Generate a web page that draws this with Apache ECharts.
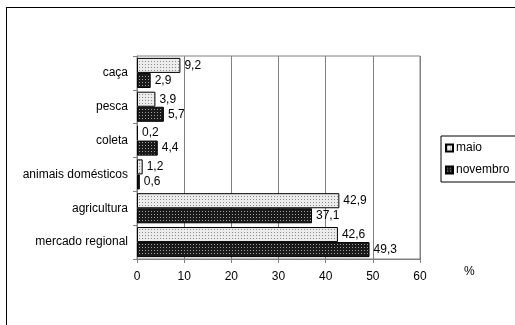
<!DOCTYPE html>
<html>
<head>
<meta charset="utf-8">
<script src="https://cdn.jsdelivr.net/npm/echarts@6/dist/echarts.min.js"></script>
<style>
  html, body { margin: 0; padding: 0; background: #fff; }
  #frame { position: absolute; left: 6px; top: 7px; width: 600px; height: 400px; border: 1px solid #000; box-sizing: border-box; }
  #chart { position: absolute; left: 0; top: 0; width: 515px; height: 325px; }
</style>
</head>
<body>
<div id="frame"></div>
<div id="chart"></div>
<script>
// Activity categories, listed bottom to top along the vertical axis
const categories = ['mercado regional', 'agricultura', 'animais domésticos', 'coleta', 'pesca', 'caça'];
// Share of each activity (%)
const maio = [42.6, 42.9, 1.2, 0.2, 3.9, 9.2];
const novembro = [49.3, 37.1, 0.6, 4.4, 5.7, 2.9];
const xTicks = [0, 10, 20, 30, 40, 50, 60];

function dotPattern(bg, dot) {
  const c = document.createElement('canvas');
  c.width = 3; c.height = 3;
  const g = c.getContext('2d');
  g.fillStyle = bg; g.fillRect(0, 0, 3, 3);
  g.fillStyle = dot; g.fillRect(1, 1, 1, 1);
  return { image: c, repeat: 'repeat' };
}
const lightFill = dotPattern('#ececec', '#8a8a8a');
const darkFill = dotPattern('#1a1a1a', '#a0a0a0');

const font = 'Liberation Sans, Arial, sans-serif';
const fmt = p => String(p.value).replace('.', ',');

const chart = echarts.init(document.getElementById('chart'), null, { renderer: 'canvas' });
chart.setOption({
  animation: false,
  textStyle: { fontFamily: font },
  grid: { left: 137, top: 56, width: 283, height: 203, show: true, borderColor: '#808080', borderWidth: 1, containLabel: false },
  legend: {
    data: ['maio', 'novembro'],
    orient: 'vertical',
    left: 441, top: 136,
    width: 100,
    itemWidth: 7, itemHeight: 7, itemGap: 10,
    icon: 'rect',
    padding: [6, 40, 6, 4],
    backgroundColor: '#fff',
    borderColor: '#000', borderWidth: 1,
    textStyle: { fontFamily: font, fontSize: 12, color: '#000', padding: [0, 0, 0, -2] }
  },
  xAxis: {
    type: 'value', min: xTicks[0], max: xTicks[xTicks.length - 1], interval: 10,
    axisLine: { show: true, lineStyle: { color: '#808080' } },
    axisTick: { show: true, length: 4, lineStyle: { color: '#808080' } },
    splitLine: { show: true, lineStyle: { color: '#808080', width: 1 } },
    axisLabel: { color: '#000', fontSize: 12, fontFamily: font, margin: 12 }
  },
  yAxis: {
    type: 'category', data: categories,
    axisLine: { show: true, lineStyle: { color: '#808080' } },
    axisTick: { show: true, length: 4, lineStyle: { color: '#808080' } },
    axisLabel: { color: '#000', fontSize: 12, fontFamily: font, margin: 9 }
  },
  graphic: [{ type: 'text', left: 464, top: 266, style: { text: '%', font: '12px ' + font, fill: '#000' } }],
  series: [
    {
      name: 'maio', type: 'bar', data: maio,
      barGap: '0%', barCategoryGap: '11%',
      itemStyle: { color: lightFill, borderColor: '#000', borderWidth: 1 },
      label: { show: true, position: 'right', distance: 4, color: '#000', fontSize: 12, fontFamily: font, formatter: fmt }
    },
    {
      name: 'novembro', type: 'bar', data: novembro,
      barGap: '0%', barCategoryGap: '11%',
      itemStyle: { color: darkFill, borderColor: '#000', borderWidth: 1 },
      label: { show: true, position: 'right', distance: 4, color: '#000', fontSize: 12, fontFamily: font, formatter: fmt }
    }
  ]
});
</script>
</body>
</html>
